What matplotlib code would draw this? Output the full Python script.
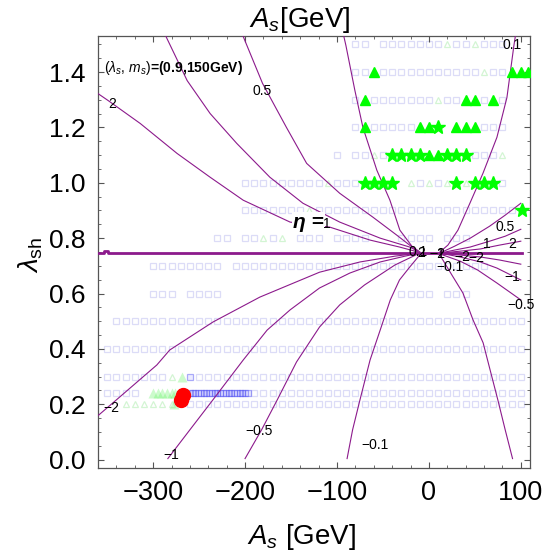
import matplotlib
matplotlib.use('Agg')
import matplotlib.pyplot as plt
import matplotlib.ticker as ticker
import numpy as np

# ---- contour lines of eta: (A_s [GeV], lambda_sh) ----
eta_p01_left_A = [-92.5, -90.3, -80.5, -71.8, -56.6, -42.4, -31.6, -18.5, -9.8]
eta_p01_left_l = [1.528, 1.496, 1.333, 1.200, 1.045, 0.937, 0.829, 0.771, 0.750]
eta_p01_right_A = [94.0, 92.5, 84.9, 74.0, 58.8, 44.6, 31.6, 20.7, 12.0]
eta_p01_right_l = [1.528, 1.496, 1.308, 1.164, 1.034, 0.926, 0.829, 0.775, 0.750]
eta_p05_left_A = [-202, -181, -155, -133, -97, -61, -35, -21, -12]
eta_p05_left_l = [1.528, 1.359, 1.200, 1.070, 0.962, 0.876, 0.811, 0.775, 0.753]
eta_p1_left_A = [-286, -263, -238, -209, -173, -137, -97, -53, -21, -12]
eta_p1_left_l = [1.528, 1.369, 1.250, 1.142, 1.020, 0.926, 0.858, 0.800, 0.768, 0.753]
eta_p2_left_A = [-360, -349, -314, -274, -238, -202, -151, -108, -64, -32, -12]
eta_p2_left_l = [1.322, 1.297, 1.214, 1.106, 1.020, 0.937, 0.858, 0.840, 0.793, 0.768, 0.750]
eta_m2_left_A = [-360, -340, -296, -282, -235, -184, -119, -75, -37, -10]
eta_m2_left_l = [0.159, 0.216, 0.342, 0.396, 0.497, 0.587, 0.677, 0.714, 0.735, 0.746]
eta_m1_left_A = [-284, -260, -235, -202, -176, -151, -119, -86, -53, -26, -10]
eta_m1_left_l = [0.004, 0.108, 0.216, 0.360, 0.468, 0.541, 0.620, 0.674, 0.714, 0.735, 0.746]
eta_m05_left_A = [-200, -182, -165, -144, -119, -97, -70, -37, -10]
eta_m05_left_l = [0.004, 0.108, 0.216, 0.353, 0.479, 0.559, 0.631, 0.703, 0.746]
eta_m01_left_A = [-89, -83, -75, -64, -53, -42, -32, -21, -10]
eta_m01_left_l = [0.004, 0.108, 0.216, 0.360, 0.468, 0.577, 0.649, 0.695, 0.739]
eta_m01_right_A = [12, 25, 37, 48, 59, 68, 75, 83, 91]
eta_m01_right_l = [0.739, 0.667, 0.602, 0.505, 0.422, 0.306, 0.216, 0.108, 0.004]
eta_p05_right_A = [100, 83, 66, 45, 28, 12]
eta_p05_right_l = [0.926, 0.883, 0.843, 0.800, 0.771, 0.746]
eta_p1_right_A = [100, 83, 66, 45, 28, 12]
eta_p1_right_l = [0.832, 0.807, 0.789, 0.768, 0.757, 0.746]
eta_p2_right_A = [100, 77, 56, 34, 12]
eta_p2_right_l = [0.789, 0.775, 0.761, 0.753, 0.746]
eta_m2_right_A = [100, 77, 56, 34, 12]
eta_m2_right_l = [0.706, 0.721, 0.732, 0.739, 0.746]
eta_m1_right_A = [100, 74, 56, 34, 12]
eta_m1_right_l = [0.649, 0.692, 0.714, 0.732, 0.746]
eta_m05_right_A = [100, 74, 53, 34, 12]
eta_m05_right_l = [0.577, 0.638, 0.685, 0.717, 0.743]
# the divergent eta line
pole_A = [-360, -354, -354, -349, -349, 101]
pole_l = [0.746, 0.746, 0.752, 0.752, 0.746, 0.746]

contours = [
    (eta_p01_left_A, eta_p01_left_l), (eta_p01_right_A, eta_p01_right_l),
    (eta_p05_left_A, eta_p05_left_l), (eta_p1_left_A, eta_p1_left_l),
    (eta_p2_left_A, eta_p2_left_l), (eta_m2_left_A, eta_m2_left_l),
    (eta_m1_left_A, eta_m1_left_l), (eta_m05_left_A, eta_m05_left_l),
    (eta_m01_left_A, eta_m01_left_l), (eta_m01_right_A, eta_m01_right_l),
    (eta_p05_right_A, eta_p05_right_l), (eta_p1_right_A, eta_p1_right_l),
    (eta_p2_right_A, eta_p2_right_l), (eta_m2_right_A, eta_m2_right_l),
    (eta_m1_right_A, eta_m1_right_l), (eta_m05_right_A, eta_m05_right_l),
]

# contour labels: text, A_s, lambda_sh
label_txt = ['2', '0.5', '0.1', '0.5', '1', '2', '−2', '−2', '−1', '−2', '0.1', '2',
             '−0.1', '−1', '−0.5', '−2', '−1', '−0.5', '−0.1']
label_A = [-345, -181, 91, 83, 63, 91, 36, 52, 9, 9, -12, -8,
           23, 91, 100, -345, -280, -185, -59]
label_l = [1.283, 1.333, 1.496, 0.840, 0.778, 0.778, 0.732, 0.728, 0.742, 0.742, 0.750, 0.746,
           0.695, 0.659, 0.559, 0.187, 0.018, 0.105, 0.054]

# ---- scan points ----
grid_rows = [1.5, 1.4, 1.3, 1.2, 1.1, 1.0, 0.9, 0.8, 0.7, 0.6, 0.5, 0.4, 0.3, 0.24, 0.2]
grid_A = [
    [-80, -70, -50, -40, -30, -20, -10, 0, 10, 30, 40, 60, 70, 80],
    [-80, -70, -50, -40, -30, -20, -10, 0, 10, 20, 30, 40, 50, 70, 80],
    [-80, -60, -50, -40, -30, -20, -10, 0, 20, 30, 60, 80],
    [-80, -60, -50, -40, -30, -20, 60, 70, 80],
    [-100, -80, -70, -50, 50, 60, 70],
    [-200, -190, -180, -170, -160, -150, -140, -130, -120, -100, -90, -80, -10, 10, 80],
    [-200, -190, -180, -170, -160, -150, -140, -120, -110, -100, -90, -80, -70, -60, -50,
     -40, -30, -20, -10, 0, 10, 20, 30, 40, 50, 60, 70, 80, 90],
    [-230, -220, -200, -190, -170, -140, -130, -120, -100, -90, -80, -70,
     -30, -20, -10, 0, 20, 30, 40],
    [-300, -290, -280, -270, -260, -250, -240, -230, -210, -200, -190, -180, -170, -160,
     -150, -140, -130, -120, -110, -100, -90, -80, -70, -60, -50, -40, -30, -20, -10,
     0, 10, 20, 30, 40, 50, 60],
    [-300, -290, -280, -260, -250, -240, -230, -30, -20, -10, 0, 20, 30, 40],
    list(range(-340, 101, 10)),
    list(range(-350, 101, 10)),
    list(range(-350, -289, 10)) + list(range(-250, 101, 10)),
    [-350, -340, -330, -320] + list(range(-190, 101, 10)),
    list(range(-260, 101, 10)),
]
faint_tri_A = [20, 50, 60, 10, -60, 80, -110, -20, 0, 20, 40, -130, -180, -160,
               -330, -320, -310, -300, -290, -280, -280]
faint_tri_l = [1.5, 1.5, 1.4, 1.3, 1.1, 1.1, 1.0, 1.0, 1.0, 1.0, 1.0, 0.9, 0.8, 0.8,
               0.2, 0.2, 0.2, 0.2, 0.2, 0.2, 0.3]
tri_A = [-60, 90, 100, 108, -70, 40, 50, 70, -70, -10, 0, 30, 40, 50, 0, 10]
tri_l = [1.4, 1.4, 1.4, 1.4, 1.3, 1.3, 1.3, 1.3, 1.2, 1.2, 1.2, 1.2, 1.2, 1.2, 1.1, 1.1]
star_A = [10, -40, -30, -20, -10, 20, 30, 40, -70, -60, -50, -40, 30, 50, 60, 70, 101]
star_l = [1.2, 1.1, 1.1, 1.1, 1.1, 1.1, 1.1, 1.1, 1.0, 1.0, 1.0, 1.0, 1.0, 1.0, 1.0, 1.0, 0.9]
light_tri_A = [-300, -295, -290, -285, -280, -276, -272, -269, -277]
light_tri_l = [0.24, 0.24, 0.24, 0.24, 0.24, 0.24, 0.24, 0.3, 0.2]
blue_A = [-260, -257, -254, -251, -248, -245, -242, -239, -236, -233, -230, -227, -224,
          -221, -218, -215, -212, -209, -206, -203, -200, -197, -260]
blue_l = [0.24] * 22 + [0.3]
red_A = [-267, -270]
red_l = [0.234, 0.216]

purple = '#8c1a8c'
lime = '#00ff00'


def _set_rcParams(plt):
    plt.rcParams['font.family'] = ['Liberation Sans', 'DejaVu Sans']
    plt.rcParams['mathtext.fontset'] = 'custom'
    plt.rcParams['mathtext.rm'] = 'Liberation Sans'
    plt.rcParams['mathtext.it'] = 'Liberation Sans:italic'
    plt.rcParams['mathtext.bf'] = 'Liberation Sans:bold'
    plt.rcParams['xtick.direction'] = 'in'
    plt.rcParams['ytick.direction'] = 'in'
    plt.rcParams['xtick.labelsize'] = 19.5
    plt.rcParams['ytick.labelsize'] = 19
    plt.rcParams['xtick.major.size'] = 4.5
    plt.rcParams['ytick.major.size'] = 4.5
    plt.rcParams['xtick.minor.size'] = 2.5
    plt.rcParams['ytick.minor.size'] = 2.5
    plt.rcParams['xtick.major.width'] = 0.8
    plt.rcParams['ytick.major.width'] = 0.8
    plt.rcParams['xtick.minor.width'] = 0.6
    plt.rcParams['ytick.minor.width'] = 0.6
    plt.rcParams['axes.linewidth'] = 0.9


_set_rcParams(plt)
fig = plt.figure(figsize=(5.44, 5.53), dpi=100)
ax = fig.add_axes([98 / 544, 1 - 468 / 553, 432 / 544, 432 / 553])

# scan grid
for lam, xs in zip(grid_rows, grid_A):
    ax.plot(xs, [lam] * len(xs), ls='none', marker='s', ms=4.6, mfc='none',
            mec='#dcdcf7', mew=0.9, zorder=1)
ax.plot(faint_tri_A, faint_tri_l, ls='none', marker='^', ms=5, mfc='none',
        mec='#d3f5d3', mew=0.9, zorder=1)
ax.plot(light_tri_A, light_tri_l, ls='none', marker='^', ms=7.5, mfc=(0.35, 0.95, 0.35, 0.3),
        mec='none', zorder=2)
ax.plot(blue_A, blue_l, ls='none', marker='s', ms=5, mfc=(0.4, 0.4, 1, 0.12),
        mec=(0.3, 0.3, 0.95, 0.45), mew=0.9, zorder=2)

# eta contours
for xs, ys in contours:
    ax.plot(xs, ys, color=purple, lw=0.8, zorder=3)
ax.plot(pole_A, pole_l, color=purple, lw=2.0, zorder=3)

ax.plot(tri_A, tri_l, ls='none', marker='^', ms=7, color=lime, zorder=4)
ax.plot(star_A, star_l, ls='none', marker='*', ms=10.5, color=lime, zorder=4)
ax.plot(red_A, red_l, ls='none', marker='o', ms=10, color='#ff0000', zorder=5)

for t, a, l in zip(label_txt, label_A, label_l):
    ax.text(a, l, t, fontsize=10, ha='center', va='center', zorder=6)
ax.text(-131, 0.858, 'η =', fontsize=15, fontweight='bold', fontstyle='italic',
        ha='center', va='center', zorder=6,
        bbox=dict(boxstyle='square,pad=0.05', fc='white', ec='none'))
ax.text(-111, 0.852, '1', fontsize=10, ha='center', va='center', zorder=6)
ax.text(-353, 1.413, r'$(\lambda_s,\,m_s)$' + '=(0.9,150GeV)', fontsize=10,
        fontweight='bold', ha='left', va='center', zorder=6)

ax.set_xlim(-360, 110)
ax.set_ylim(-0.03, 1.53)
ax.xaxis.set_major_locator(ticker.MultipleLocator(100))
ax.xaxis.set_minor_locator(ticker.MultipleLocator(20))
ax.yaxis.set_major_locator(ticker.MultipleLocator(0.2))
ax.yaxis.set_minor_locator(ticker.MultipleLocator(0.05))
ax.yaxis.set_major_formatter(ticker.FormatStrFormatter('%.1f'))
ax.tick_params(which='both', top=True, right=True, colors='#555555', labelcolor='black')
ax.tick_params(axis='x', pad=9)
ax.tick_params(axis='y', pad=9)
for s in ax.spines.values():
    s.set_color('#555555')

fig.text(300 / 544, 1 - 20 / 553, r'$A_s$[GeV]', fontsize=20, ha='center', va='center')
fig.text(302 / 544, 1 - 537 / 553, r'$A_s$ [GeV]', fontsize=20, ha='center', va='center')
fig.text(31 / 544, 1 - 255 / 553, r'$\lambda_{\rm sh}$', fontsize=20, ha='center',
         va='center', rotation=90)

fig.savefig('out.png', dpi=100)
